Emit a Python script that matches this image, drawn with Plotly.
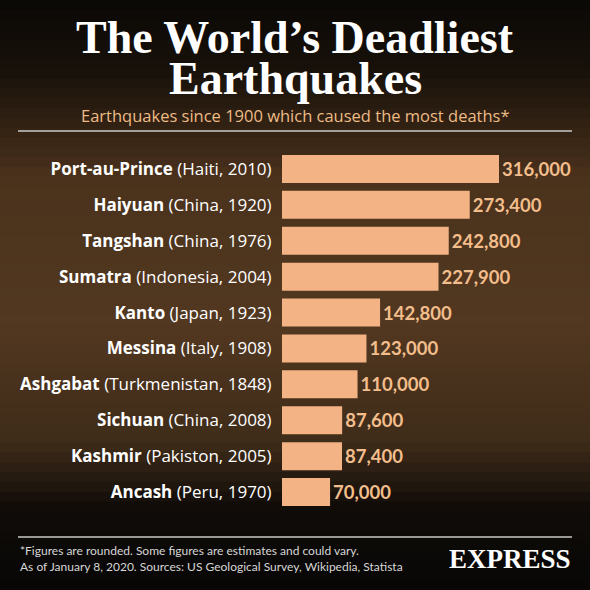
import plotly.graph_objects as go

# data, top to bottom as in the chart
places = [
    "Port-au-Prince", "Haiyuan", "Tangshan", "Sumatra", "Kanto",
    "Messina", "Ashgabat", "Sichuan", "Kashmir", "Ancash",
]
details = [
    "(Haiti, 2010)", "(China, 1920)", "(China, 1976)", "(Indonesia, 2004)",
    "(Japan, 1923)", "(Italy, 1908)", "(Turkmenistan, 1848)", "(China, 2008)",
    "(Pakiston, 2005)", "(Peru, 1970)",
]
deaths = [316000, 273400, 242800, 227900, 142800, 123000, 110000, 87600, 87400, 70000]

BAR_COLOR = "#F4B384"
VALUE_COLOR = "#F3BE8C"
SANS = "Lato, 'Open Sans', sans-serif"
WIDE_SANS = "'Open Sans', Lato, sans-serif"
SERIF = "'Liberation Serif', 'DejaVu Serif', serif"
H = 590.0

labels = [f"<b>{p}</b> {d}" for p, d in zip(places, details)]

fig = go.Figure(
    go.Bar(
        x=deaths,
        y=labels,
        orientation="h",
        marker=dict(color=BAR_COLOR, line_width=0),
        width=0.78,
        text=deaths,
        texttemplate="<b>%{x:,}</b>",
        textposition="outside",
        textfont=dict(color=VALUE_COLOR, size=18.5, family=SANS),
        cliponaxis=False,
        hoverinfo="skip",
    )
)


# background: dark at top and bottom, warm brown in the middle
def bg_color(t):
    # t from 0 (top) to 1 (bottom)
    stops = [(0.0, (10, 8, 6)), (0.12, (24, 17, 10)), (0.3, (74, 50, 28)),
             (0.55, (82, 56, 32)), (0.75, (62, 43, 25)), (0.86, (16, 12, 8)),
             (1.0, (8, 7, 6))]
    for (t0, c0), (t1, c1) in zip(stops, stops[1:]):
        if t0 <= t <= t1:
            f = (t - t0) / (t1 - t0)
            c = [round(a + (b - a) * f) for a, b in zip(c0, c1)]
            return f"rgb({c[0]},{c[1]},{c[2]})"
    return "rgb(8,7,6)"


def py(pix):
    # pixel row -> paper y (margins are zero, so paper = whole figure)
    return 1 - pix / H


shapes = []
n_bands = 60
for i in range(n_bands):
    y1 = 1 - i / n_bands
    y0 = 1 - (i + 1) / n_bands
    shapes.append(dict(type="rect", xref="paper", yref="paper", x0=0, x1=1,
                       y0=y0 - 0.002, y1=y1, fillcolor=bg_color((i + 0.5) / n_bands),
                       line_width=0, layer="below"))

for row in (131, 537):
    shapes.append(dict(type="line", xref="paper", yref="paper",
                       x0=18 / H, x1=572 / H, y0=py(row), y1=py(row),
                       line=dict(color="#c9c9c9", width=1.5), layer="above"))

annotations = [
    dict(text="<b>The World’s Deadliest</b>", x=0.5, y=py(38),
         xanchor="center", yanchor="middle",
         font=dict(family=SERIF, size=46, color="white")),
    dict(text="<b>Earthquakes</b>", x=0.5, y=py(78),
         xanchor="center", yanchor="middle",
         font=dict(family=SERIF, size=46, color="white")),
    dict(text="Earthquakes since 1900 which caused the most deaths*", x=0.5, y=py(115),
         xanchor="center", yanchor="middle",
         font=dict(family=WIDE_SANS, size=16.5, color="#EDBB86")),
    dict(text="*Figures are rounded. Some figures are estimates and could vary.<br>"
              "As of January 8, 2020. Sources: US Geological Survey, Wikipedia, Statista",
         x=18 / H, y=py(558), xanchor="left", yanchor="middle", align="left",
         font=dict(family=SANS, size=12, color="#d6d6d6")),
    dict(text="<b>EXPRESS</b>", x=573 / H, y=py(559), xanchor="right", yanchor="middle",
         font=dict(family=SERIF, size=27, color="white")),
]
for a in annotations:
    a.update(xref="paper", yref="paper", showarrow=False)

fig.update_layout(
    width=590,
    height=590,
    margin=dict(l=0, r=0, t=0, b=0),
    paper_bgcolor="#0c0a08",
    plot_bgcolor="rgba(0,0,0,0)",
    showlegend=False,
    shapes=shapes,
    annotations=annotations,
    xaxis=dict(domain=[282 / H, 1], range=[0, 448500], visible=False,
               fixedrange=True, automargin=False),
    yaxis=dict(
        domain=[py(510), py(151)],
        autorange="reversed",
        showgrid=False,
        zeroline=False,
        ticks="outside",
        ticklen=6,
        tickcolor="rgba(0,0,0,0)",
        tickfont=dict(family=WIDE_SANS, size=17, color="white"),
        fixedrange=True,
        automargin=False,
    ),
)

fig.write_html("out.html", config={"displayModeBar": False},
               post_script="document.body.style.margin='0';")
